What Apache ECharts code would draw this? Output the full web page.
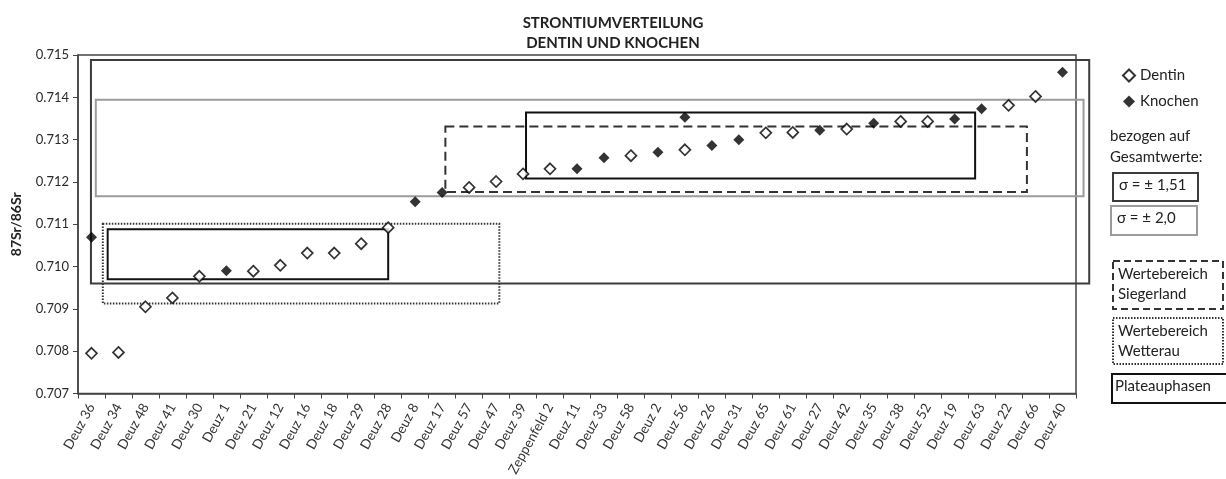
<!DOCTYPE html>
<html>
<head>
<meta charset="utf-8">
<script src="https://cdn.jsdelivr.net/npm/echarts@6/dist/echarts.min.js"></script>
<style>
html,body{margin:0;padding:0;background:#fff;}
#chart{width:1226px;height:479px;}
</style>
</head>
<body>
<div id="chart"></div>
<script>
const categories = ['Deuz 36','Deuz 34','Deuz 48','Deuz 41','Deuz 30','Deuz 1','Deuz 21','Deuz 12','Deuz 16','Deuz 18','Deuz 29','Deuz 28','Deuz 8','Deuz 17','Deuz 57','Deuz 47','Deuz 39','Zeppenfeld 2','Deuz 11','Deuz 33','Deuz 58','Deuz 2','Deuz 56','Deuz 26','Deuz 31','Deuz 65','Deuz 61','Deuz 27','Deuz 42','Deuz 35','Deuz 38','Deuz 52','Deuz 19','Deuz 63','Deuz 22','Deuz 66','Deuz 40'];

const dentin = [0.70795,0.70797,0.70905,0.70926,0.70977,null,0.70989,0.71003,0.71032,0.71032,0.71054,0.71092,null,null,0.71187,0.71201,0.71219,0.71231,null,null,0.71262,null,0.71276,null,null,0.71316,0.71317,null,0.71325,null,0.71343,0.71343,null,null,0.71381,0.71402,null];

const knochen = [0.71069,null,null,null,null,0.70990,null,null,null,null,null,null,0.71153,0.71175,null,null,null,null,0.71231,0.71257,null,0.71270,0.71353,0.71286,0.71300,null,null,0.71322,null,0.71339,null,null,0.71349,0.71373,null,null,0.71459];

const yTicks = [0.707,0.708,0.709,0.710,0.711,0.712,0.713,0.714,0.715];

// Ranges drawn as boxes: [xStart, xEnd (category units from left edge), yLow, yHigh]
const sigma151Box = [0.48, 37.49, 0.70960, 0.71488];
const sigma20Box = [0.66, 37.28, 0.71166, 0.71394];
const siegerlandBox = [13.62, 35.18, 0.71176, 0.71331];
const wetterauBox = [0.92, 15.62, 0.70913, 0.71101];
const plateauBoxes = [[1.10, 11.50, 0.70970, 0.71088],[16.61, 33.26, 0.71208, 0.71364]];

const FONT = 'Lato';
const chart = echarts.init(document.getElementById('chart'));

function rectSeries(name, data, style, z) {
  return {
    name: name,
    type: 'custom',
    xAxisIndex: 1,
    yAxisIndex: 0,
    silent: true,
    clip: false,
    z: z,
    encode: {x: [0, 1], y: [2, 3]},
    data: data,
    renderItem: function (params, api) {
      const p0 = api.coord([api.value(0), api.value(3)]);
      const p1 = api.coord([api.value(1), api.value(2)]);
      return {
        type: 'rect',
        shape: {x: p0[0], y: p0[1], width: p1[0] - p0[0], height: p1[1] - p0[1]},
        style: Object.assign({fill: 'none'}, style)
      };
    }
  };
}

const legendText = {fontFamily: FONT, fontSize: 15, fill: '#222'};

const option = {
  animation: false,
  backgroundColor: '#fff',
  title: {
    text: 'STRONTIUMVERTEILUNG\nDENTIN UND KNOCHEN',
    left: 'center',
    top: 8,
    textStyle: {fontFamily: FONT, fontWeight: 'bold', fontSize: 15, color: '#222', lineHeight: 20}
  },
  legend: {
    data: ['Dentin', 'Knochen'],
    orient: 'vertical',
    left: 1117,
    top: 63,
    itemWidth: 12,
    itemHeight: 12,
    itemGap: 11,
    icon: 'diamond',
    textStyle: {fontFamily: FONT, fontSize: 15, color: '#222'}
  },
  grid: {
    left: 78, right: 150, top: 55, bottom: 85,
    show: true, borderColor: '#444', borderWidth: 1.5, backgroundColor: 'transparent'
  },
  xAxis: [
    {
      type: 'category',
      data: categories,
      boundaryGap: true,
      axisLine: {lineStyle: {color: '#444', width: 1.5}},
      axisTick: {show: true, length: 5, alignWithLabel: false, lineStyle: {color: '#444'}},
      axisLabel: {interval: 0, rotate: 61, fontFamily: FONT, fontSize: 13.5, color: '#333', margin: 11}
    },
    {
      type: 'value', min: 0, max: categories.length, show: false
    }
  ],
  yAxis: {
    type: 'value',
    min: yTicks[0],
    max: yTicks[yTicks.length - 1],
    interval: 0.001,
    name: '87Sr/86Sr',
    nameLocation: 'middle',
    nameGap: 55,
    nameTextStyle: {fontFamily: FONT, fontWeight: 'bold', fontSize: 14, color: '#222'},
    axisLine: {show: true, lineStyle: {color: '#444', width: 1.5}},
    axisTick: {show: true, length: 5, lineStyle: {color: '#444'}},
    splitLine: {show: false},
    axisLabel: {fontFamily: FONT, fontSize: 13, color: '#2a2a2a', margin: 9,
      formatter: function (v) { return v.toFixed(3); }}
  },
  series: [
    rectSeries('sigma151', [sigma151Box], {stroke: '#3c3c3c', lineWidth: 2}, 1),
    rectSeries('sigma20', [sigma20Box], {stroke: '#9c9c9c', lineWidth: 2}, 1),
    rectSeries('siegerland', [siegerlandBox], {stroke: '#333', lineWidth: 2, lineDash: [9, 5]}, 2),
    rectSeries('wetterau', [wetterauBox], {stroke: '#333', lineWidth: 2, lineDash: [1.5, 1.5]}, 2),
    rectSeries('plateau', plateauBoxes, {stroke: '#111', lineWidth: 2}, 3),
    {
      name: 'Dentin', type: 'scatter', data: dentin, symbol: 'diamond', symbolSize: 11, z: 5,
      itemStyle: {color: '#fff', borderColor: '#000', borderWidth: 1.7}
    },
    {
      name: 'Knochen', type: 'scatter', data: knochen, symbol: 'diamond', symbolSize: 11, z: 5,
      itemStyle: {color: '#000', borderColor: '#000', borderWidth: 0}
    }
  ],
  graphic: [
    {type: 'text', left: 1110, top: 126, style: Object.assign({text: 'bezogen auf\nGesamtwerte:', lineHeight: 21}, legendText)},
    {type: 'rect', shape: {x: 1113, y: 173, width: 85, height: 28}, style: {fill: 'none', stroke: '#3c3c3c', lineWidth: 2}},
    {type: 'text', left: 1119, top: 178, style: Object.assign({text: 'σ = ± 1,51'}, legendText)},
    {type: 'rect', shape: {x: 1111, y: 206, width: 86, height: 29}, style: {fill: 'none', stroke: '#9c9c9c', lineWidth: 2}},
    {type: 'text', left: 1117, top: 211, style: Object.assign({text: 'σ = ± 2,0'}, legendText)},
    {type: 'rect', shape: {x: 1113, y: 261, width: 110, height: 48}, style: {fill: 'none', stroke: '#333', lineWidth: 2, lineDash: [7, 4]}},
    {type: 'text', left: 1118, top: 264, style: Object.assign({text: 'Wertebereich\nSiegerland', lineHeight: 20}, legendText)},
    {type: 'rect', shape: {x: 1113, y: 318, width: 110, height: 46}, style: {fill: 'none', stroke: '#333', lineWidth: 2, lineDash: [1.5, 1.5]}},
    {type: 'text', left: 1118, top: 321, style: Object.assign({text: 'Wertebereich\nWetterau', lineHeight: 20}, legendText)},
    {type: 'rect', shape: {x: 1112, y: 374, width: 116, height: 29}, style: {fill: 'none', stroke: '#111', lineWidth: 2}},
    {type: 'text', left: 1115, top: 379, style: Object.assign({text: 'Plateauphasen'}, legendText)}
  ]
};
chart.setOption(option);
</script>
</body>
</html>
